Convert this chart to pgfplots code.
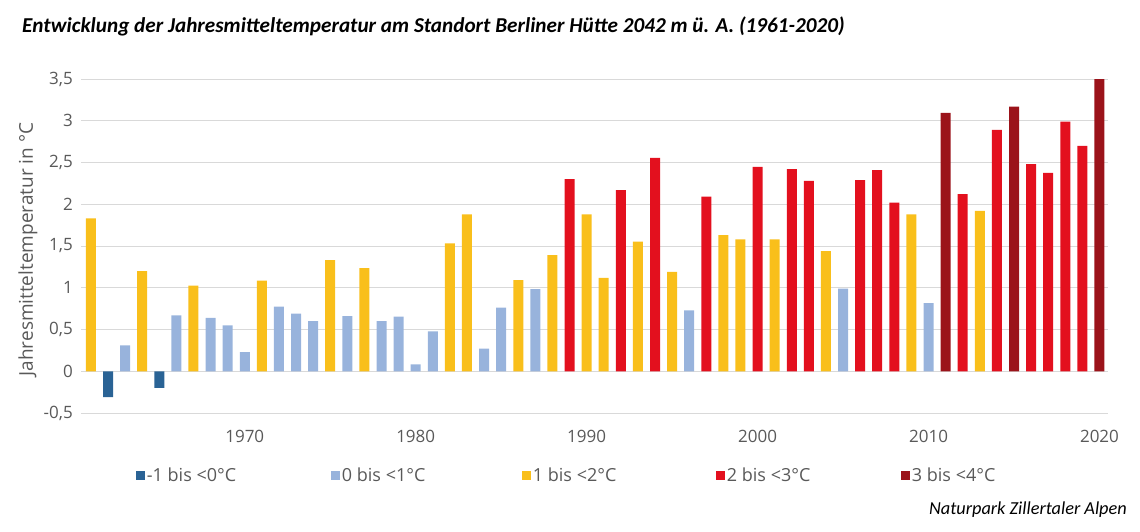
\documentclass[border=0pt]{standalone}
\usepackage{fontspec}
\setmainfont{Open Sans}
\newfontfamily\carlito{Carlito}
\usepackage{pgfplots}
\pgfplotsset{compat=1.18}

\definecolor{cA}{HTML}{2A6395}
\definecolor{cB}{HTML}{98B3DC}
\definecolor{cC}{HTML}{F9BF1B}
\definecolor{cD}{HTML}{E3101E}
\definecolor{cE}{HTML}{9B131A}
\definecolor{txtgray}{HTML}{595959}
\definecolor{gridgray}{HTML}{D9D9D9}

\pgfplotsset{
  sq/.style={legend image code/.code={\fill[##1] (0pt,-4.5pt) rectangle (9pt,4.5pt);}},
}

\begin{document}
\begin{tikzpicture}
\path[use as bounding box] (0,0) rectangle (1140pt,531pt);

\begin{axis}[
  at={(81pt,118pt)}, anchor=south west,
  scale only axis, width=1027pt, height=334pt,
  xmin=1960.42, xmax=2020.5, ymin=-0.5, ymax=3.5,
  ybar, bar width=10pt, bar shift=0pt,
  axis line style={draw=none},
  major tick length=0pt,
  ymajorgrids, grid style={gridgray, line width=1pt},
  ytick={-0.5,0,0.5,1,1.5,2,2.5,3,3.5},
  yticklabels={{-0,5},0,{0,5},1,{1,5},2,{2,5},3,{3,5}},
  xtick={1970,1980,1990,2000,2010,2020},
  xticklabels={1970,1980,1990,2000,2010,2020},
  tick label style={font=\fontsize{17}{20}\selectfont, text=txtgray},
  yticklabel style={anchor=east, inner sep=0pt, xshift=-8pt},
  xticklabel style={anchor=north, inner sep=0pt, yshift=-17pt},
  ylabel={Jahresmitteltemperatur in °C},
  every axis y label/.style={at={(axis description cs:-0.0516,0.4895)}, rotate=90, anchor=center, font=\fontsize{19}{22}\selectfont, text=txtgray},
  legend columns=5,
  legend style={at={(axis description cs:0.0533,-0.187)}, anchor=west, draw=none, fill=none,
    font=\fontsize{18}{21}\selectfont, text=txtgray, column sep=0pt, inner sep=0pt,
    nodes={inner sep=0pt}},
]
% -1 bis <0
\addplot[fill=cA, draw=none, sq] coordinates {(1962,-0.31) (1965,-0.20)};
\addlegendentry{\makebox[186pt][l]{\hspace{2pt}-1 bis <0°C}}
% 0 bis <1
\addplot[fill=cB, draw=none, sq] coordinates {
(1963,0.31) (1966,0.67) (1968,0.64) (1969,0.55) (1970,0.23) (1972,0.775)
(1973,0.69) (1974,0.60) (1976,0.66) (1978,0.60) (1979,0.655) (1980,0.083)
(1981,0.477) (1984,0.27) (1985,0.763) (1987,0.985) (1996,0.73) (2005,0.99)
(2010,0.815)};
\addlegendentry{\makebox[182pt][l]{\hspace{2pt}0 bis <1°C}}
% 1 bis <2
\addplot[fill=cC, draw=none, sq] coordinates {
(1961,1.83) (1964,1.20) (1967,1.025) (1971,1.085) (1975,1.33) (1977,1.235)
(1982,1.53) (1983,1.88) (1986,1.09) (1988,1.39) (1990,1.88) (1991,1.117)
(1993,1.553) (1995,1.19) (1998,1.63) (1999,1.58) (2001,1.58) (2004,1.44)
(2009,1.88) (2013,1.92)};
\addlegendentry{\makebox[185pt][l]{\hspace{2pt}1 bis <2°C}}
% 2 bis <3
\addplot[fill=cD, draw=none, sq] coordinates {
(1989,2.30) (1992,2.17) (1994,2.555) (1997,2.09) (2000,2.447) (2002,2.42)
(2003,2.28) (2006,2.29) (2007,2.41) (2008,2.02) (2012,2.12) (2014,2.89)
(2016,2.48) (2017,2.376) (2018,2.99) (2019,2.70)};
\addlegendentry{\makebox[176pt][l]{\hspace{2pt}2 bis <3°C}}
% 3 bis <4
\addplot[fill=cE, draw=none, sq] coordinates {(2011,3.095) (2015,3.17) (2020,3.50)};
\addlegendentry{\makebox[100pt][l]{\hspace{2pt}3 bis <4°C}}
\end{axis}

\node[anchor=base west, inner sep=0pt, font=\carlito\bfseries\itshape\fontsize{21.2}{25}\selectfont]
  at (22pt,498pt) {Entwicklung der Jahresmitteltemperatur am Standort Berliner Hütte 2042 m ü. A. (1961-2020)};
\node[anchor=base east, inner sep=0pt, font=\carlito\itshape\fontsize{18.3}{22}\selectfont]
  at (1127pt,17pt) {Naturpark Zillertaler Alpen};
\end{tikzpicture}
\end{document}
